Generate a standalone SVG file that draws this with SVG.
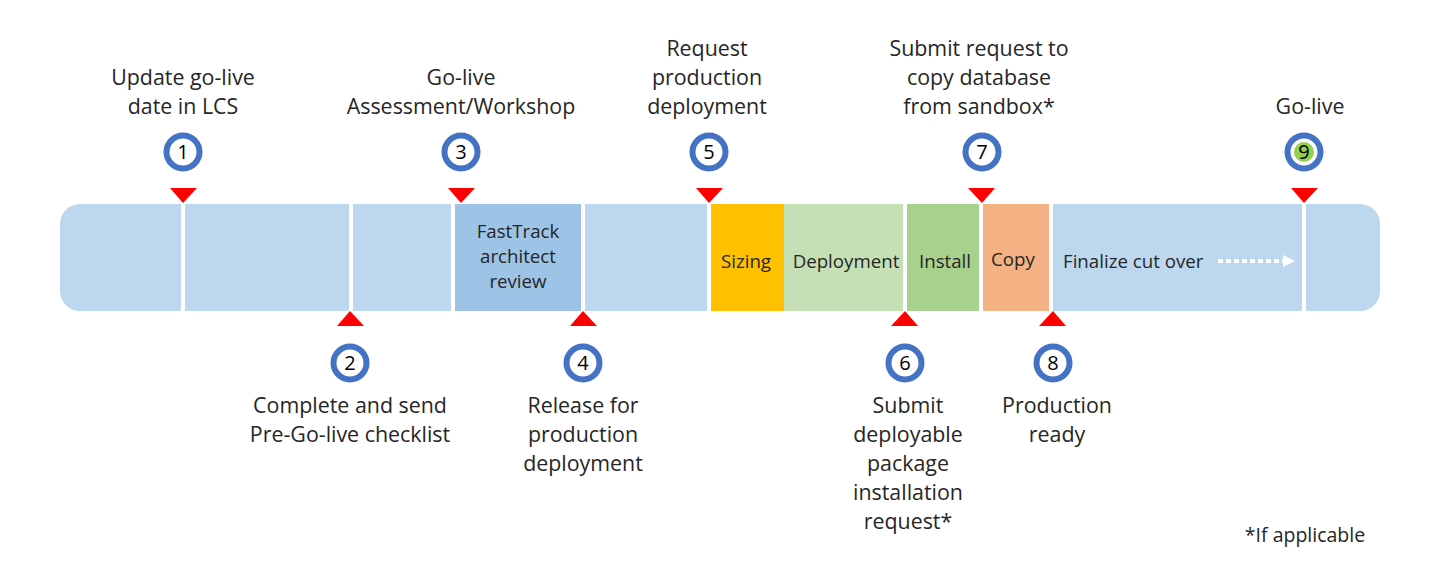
<svg xmlns="http://www.w3.org/2000/svg" width="1447" height="583" viewBox="0 0 1447 583">
<style>
.lbl{font-family:"Open Sans","Liberation Sans",sans-serif;font-size:21.4px;fill:#262626;text-anchor:middle}
.bt{font-family:"Open Sans","Liberation Sans",sans-serif;font-size:18.7px;fill:#262626;text-anchor:middle}
.num{font-family:"Open Sans","Liberation Sans",sans-serif;font-size:20px;fill:#000;text-anchor:middle}
.ring{fill:#fff;stroke:#4472C4;stroke-width:6}
.tri{fill:#FF0000}
.sep{stroke:#fff;stroke-width:4}
</style>
<defs>
<clipPath id="barclip"><rect x="60" y="204" width="1320" height="107" rx="20"/></clipPath>
</defs>
<rect width="1447" height="583" fill="#fff"/>
<g id="bar">
<g clip-path="url(#barclip)">
<rect x="60" y="204" width="1320" height="107" fill="#BDD7EE"/>
<rect x="453" y="204" width="130" height="107" fill="#9DC3E6"/>
<rect x="709" y="204" width="75" height="107" fill="#FFC000"/>
<rect x="784" y="204" width="121" height="107" fill="#C5E0B4"/>
<rect x="905" y="204" width="76" height="107" fill="#A9D18E"/>
<rect x="981" y="204" width="70" height="107" fill="#F4B183"/>
</g>
<g class="sep">
<line x1="183" y1="204" x2="183" y2="311"/>
<line x1="351" y1="204" x2="351" y2="311"/>
<line x1="453" y1="204" x2="453" y2="311"/>
<line x1="583" y1="204" x2="583" y2="311"/>
<line x1="709" y1="204" x2="709" y2="311"/>
<line x1="905" y1="204" x2="905" y2="311"/>
<line x1="981" y1="204" x2="981" y2="311"/>
<line x1="1051" y1="204" x2="1051" y2="311"/>
<line x1="1304" y1="204" x2="1304" y2="311"/>
</g>
<text class="bt" x="518" y="238">FastTrack</text>
<text class="bt" x="518" y="263">architect</text>
<text class="bt" x="518" y="288">review</text>
<text class="bt" x="746" y="268">Sizing</text>
<text class="bt" x="846" y="268">Deployment</text>
<text class="bt" x="945" y="268">Install</text>
<text class="bt" x="1013" y="266">Copy</text>
<text class="bt" x="1063" y="268" style="text-anchor:start">Finalize cut over</text>
</g>
<g id="connectors">
<line x1="1218" y1="261" x2="1283" y2="261" stroke="#fff" stroke-width="4" stroke-dasharray="5 3"/>
<polygon points="1283,255 1295,261 1283,267" fill="#fff"/>
</g>
<g id="m1">
<polygon class="tri" points="170,188 197,188 183,203"/>
<circle class="ring" cx="183" cy="152" r="16.5"/>
<text class="num" x="183" y="159">1</text>
<text class="lbl" x="183" y="85">Update go-live</text>
<text class="lbl" x="183" y="114">date in LCS</text>
</g>
<g id="m2">
<polygon class="tri" points="337,326 364,326 350,311"/>
<circle class="ring" cx="350" cy="363" r="16.5"/>
<text class="num" x="350" y="370">2</text>
<text class="lbl" x="350" y="413">Complete and send</text>
<text class="lbl" x="350" y="442">Pre-Go-live checklist</text>
</g>
<g id="m3">
<polygon class="tri" points="448,188 475,188 461,203"/>
<circle class="ring" cx="461" cy="152" r="16.5"/>
<text class="num" x="461" y="159">3</text>
<text class="lbl" x="461" y="85">Go-live</text>
<text class="lbl" x="461" y="114">Assessment/Workshop</text>
</g>
<g id="m4">
<polygon class="tri" points="570,326 597,326 583,311"/>
<circle class="ring" cx="583" cy="363" r="16.5"/>
<text class="num" x="583" y="370">4</text>
<text class="lbl" x="583" y="413">Release for</text>
<text class="lbl" x="583" y="442">production</text>
<text class="lbl" x="583" y="471">deployment</text>
</g>
<g id="m5">
<polygon class="tri" points="696,188 723,188 709,203"/>
<circle class="ring" cx="709" cy="152" r="16.5"/>
<text class="num" x="709" y="159">5</text>
<text class="lbl" x="707" y="56">Request</text>
<text class="lbl" x="707" y="85">production</text>
<text class="lbl" x="707" y="114">deployment</text>
</g>
<g id="m6">
<polygon class="tri" points="891,326 918,326 905,311"/>
<circle class="ring" cx="905" cy="363" r="16.5"/>
<text class="num" x="905" y="370">6</text>
<text class="lbl" x="908" y="413">Submit</text>
<text class="lbl" x="908" y="442">deployable</text>
<text class="lbl" x="908" y="471">package</text>
<text class="lbl" x="908" y="500">installation</text>
<text class="lbl" x="908" y="529">request*</text>
</g>
<g id="m7">
<polygon class="tri" points="968,188 995,188 982,203"/>
<circle class="ring" cx="982" cy="152" r="16.5"/>
<text class="num" x="982" y="159">7</text>
<text class="lbl" x="979" y="56">Submit request to</text>
<text class="lbl" x="979" y="85">copy database</text>
<text class="lbl" x="979" y="114">from sandbox*</text>
</g>
<g id="m8">
<polygon class="tri" points="1039,326 1066,326 1053,311"/>
<circle class="ring" cx="1053" cy="363" r="16.5"/>
<text class="num" x="1053" y="370">8</text>
<text class="lbl" x="1057" y="413">Production</text>
<text class="lbl" x="1057" y="442">ready</text>
</g>
<g id="m9">
<polygon class="tri" points="1291,188 1318,188 1304,203"/>
<circle class="ring" cx="1304" cy="152" r="16.5"/>
<circle cx="1304" cy="152" r="10" fill="#92D050"/>
<text class="num" x="1304" y="159">9</text>
<text class="lbl" x="1310" y="114">Go-live</text>
</g>
<text class="lbl" x="1305" y="542" style="font-size:19.5px">*If applicable</text>
</svg>
